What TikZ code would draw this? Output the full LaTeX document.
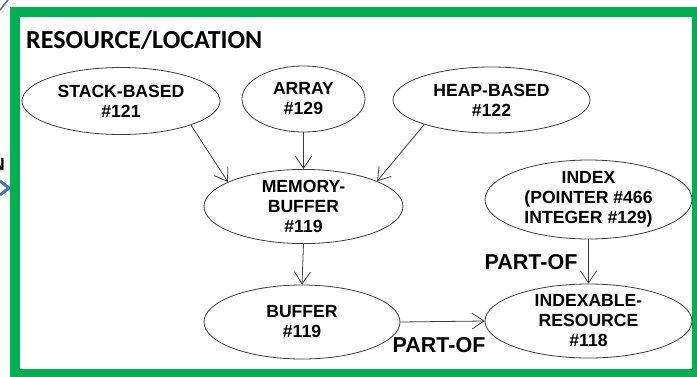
\documentclass[tikz,border=0pt]{standalone}
\usepackage{fontspec}
\setmainfont{Liberation Sans}
\newfontfamily\titlefont{Carlito}
\usetikzlibrary{shapes.geometric,arrows.meta}

\definecolor{framegreen}{RGB}{0,176,80}
\definecolor{linkblue}{RGB}{68,114,196}
\definecolor{edgegray}{RGB}{60,60,60}

\tikzset{
  concept/.style={ellipse, draw=edgegray, line width=0.8pt, inner sep=0pt,
    align=center, font=\fontsize{17.6}{20}\selectfont\bfseries},
  link/.style={draw=edgegray, line width=0.8pt,
    -{Straight Barb[length=12pt,width=16pt]}},
  relname/.style={font=\fontsize{21.5}{24}\selectfont\bfseries, inner sep=0pt}
}

\begin{document}
\begin{tikzpicture}[x=1pt, y=-1pt]
  \useasboundingbox (0,0) rectangle (697,376);
  \clip (0,0) rectangle (697,376);

  % pieces of the neighbouring panel
  \draw[linkblue, line width=1.5pt] (0,10) -- (8,0);
  \draw[linkblue, line width=3pt] (0,181) -- (9,188) -- (0,195);
  \node[anchor=base east, inner sep=0pt, font=\fontsize{17.6}{20}\selectfont\bfseries] (cut) at (5,170) {N};

  % panel frame and title
  \draw[framegreen, line width=10pt] (14.5,12) rectangle (697,374);
  \node[anchor=base west, inner sep=0pt, font=\titlefont\fontsize{26}{30}\selectfont\bfseries] (title) at (26,48) {RESOURCE/LOCATION};

  % concepts
  \node[concept, minimum width=198pt, minimum height=67pt] (stack) at (121,101) {STACK-BASED\\\#121};
  \node[concept, minimum width=123pt, minimum height=66pt] (array) at (303.5,99) {ARRAY\\\#129};
  \node[concept, minimum width=197pt, minimum height=66pt] (heap) at (491.5,100) {HEAP-BASED\\\#122};
  \node[concept, minimum width=199pt, minimum height=67pt] (mem) at (303.5,206.5) {MEMORY-\\BUFFER\\\#119};
  \node[concept, minimum width=196pt, minimum height=74pt] (buffer) at (302,322) {BUFFER\\\#119};
  \node[concept, minimum width=207pt, minimum height=79pt] (index) at (588.5,199.5) {INDEX\\(POINTER \#466\\INTEGER \#129)};
  \node[concept, minimum width=207pt, minimum height=74pt] (indexable) at (588.5,321) {INDEXABLE-\\RESOURCE\\\#118};

  % links
  \draw[link] (stack.-19) -- (mem.162);
  \draw[link] (array.south) -- (mem.north);
  \draw[link] (heap.-160) -- (mem.19);
  \draw[link] (mem.south) -- (buffer.north);
  \draw[link] (index.south) -- (indexable.north);
  \draw[link] (buffer.east) -- (indexable.west);

  % relation names
  \node[relname] (partof1) at (531,262.5) {PART-OF};
  \node[relname] (partof2) at (439,345.5) {PART-OF};
\end{tikzpicture}
\end{document}
